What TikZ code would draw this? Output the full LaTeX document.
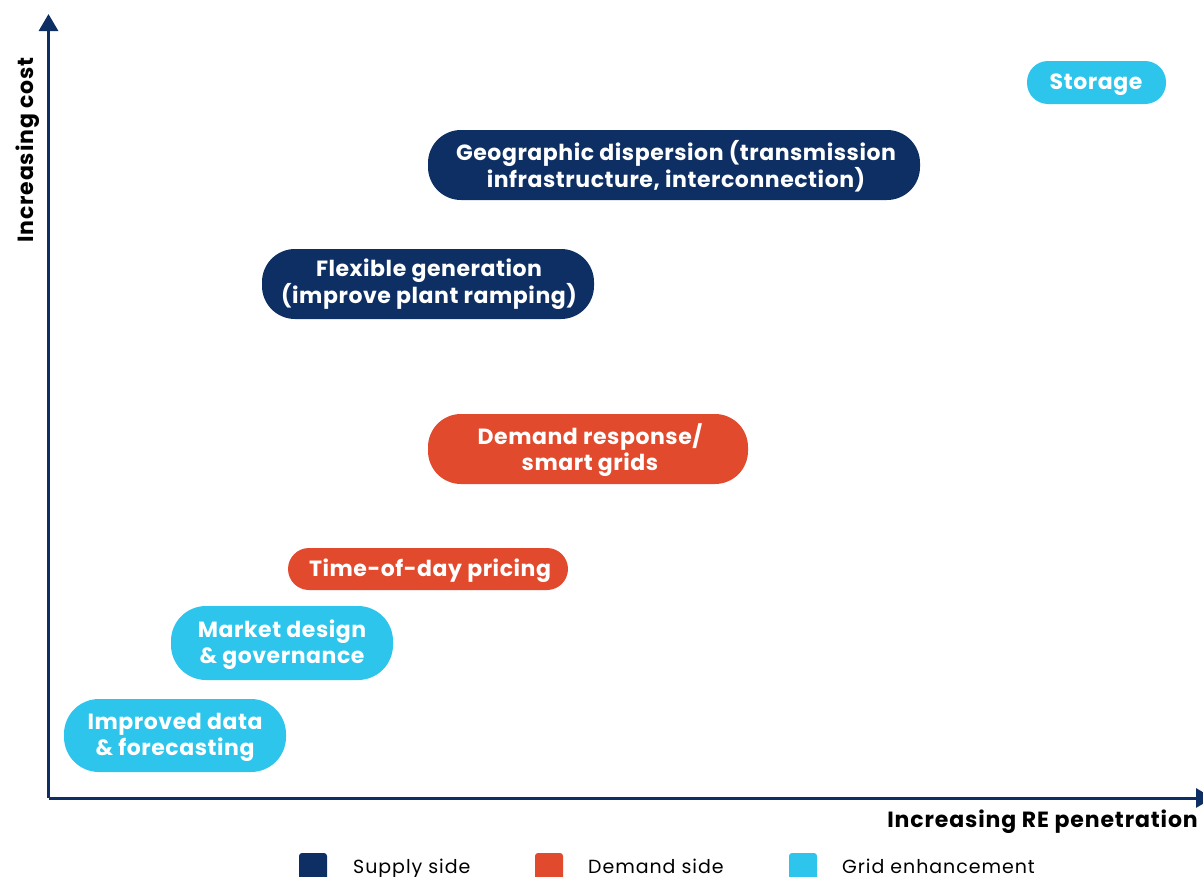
\documentclass[tikz,border=0pt]{standalone}
\usepackage{fontspec}
\setmainfont{Poppins}
\newfontfamily\pillfont[LetterSpace=2.5]{Poppins}
\newfontfamily\axfont[LetterSpace=4]{Poppins}
\newfontfamily\legfont[LetterSpace=5]{Poppins}
\usetikzlibrary{arrows.meta}
\definecolor{navy}{HTML}{0E2F64}
\definecolor{redd}{HTML}{E14A2D}
\definecolor{cyann}{HTML}{2DC5EB}
\tikzset{
  pill/.style={text=white, font=\pillfont\fontsize{22bp}{26bp}\selectfont\bfseries, align=center, inner sep=0pt},
  axis/.style={draw=navy, line width=3bp, -{Triangle[length=17bp,width=19bp]}},
  axlabel/.style={font=\axfont\fontsize{22bp}{26bp}\selectfont\bfseries, text=black, inner sep=0pt},
  legbox/.style={fill=#1, rounded corners=3bp, minimum width=28bp, minimum height=30bp, inner sep=0pt},
  legtext/.style={font=\legfont\fontsize{19bp}{22bp}\selectfont, anchor=base west, inner sep=0pt}
}
\begin{document}
\begin{tikzpicture}[x=1bp,y=-1bp]
\useasboundingbox (0,0) rectangle (1203,877);
% axes
\coordinate (o) at (48.5,798);
\coordinate (ytop) at (48.5,14);
\coordinate (xend) at (1213,798);
\draw[axis] (o) -- (ytop);
\draw[axis] (o) -- (xend);
\node[axlabel, rotate=90, anchor=base] (ylab) at (33,150) {Increasing cost};
\node[axlabel, anchor=base east] (xlab) at (1198,827) {Increasing RE penetration};
% pills
\fill[cyann, rounded corners=21bp] (1027,61) rectangle (1166,104);
\node[pill] (storage) at (1096,85) {Storage};
\fill[navy, rounded corners=33bp] (428,130) rectangle (920,200);
\node[pill] (geo) at (676,166.5) {Geographic dispersion (transmission\\infrastructure, interconnection)};
\fill[navy, rounded corners=33bp] (262,249) rectangle (594,319);
\node[pill] (flex) at (429,284.5) {Flexible generation\\(improve plant ramping)};
\fill[redd, rounded corners=33bp] (428,414) rectangle (748,484);
\node[pill] (dr) at (590,450.5) {Demand response/\\smart grids};
\fill[redd, rounded corners=21bp] (288,548) rectangle (568,590);
\node[pill] (tod) at (430,571) {Time-of-day pricing};
\fill[cyann, rounded corners=35bp] (171,606) rectangle (393,680);
\node[pill] (market) at (282,644.5) {Market design\\\& governance};
\fill[cyann, rounded corners=35bp] (64,699) rectangle (286,772);
\node[pill] (data) at (175,737.5) {Improved data\\\& forecasting};
% legend
\node[legbox=navy] (l1) at (313,868) {};
\node[legtext] (t1) at (353,873) {Supply side};
\node[legbox=redd] (l2) at (549,868) {};
\node[legtext] (t2) at (588,873) {Demand side};
\node[legbox=cyann] (l3) at (803,868) {};
\node[legtext] (t3) at (842,873) {Grid enhancement};
\end{tikzpicture}
\end{document}
